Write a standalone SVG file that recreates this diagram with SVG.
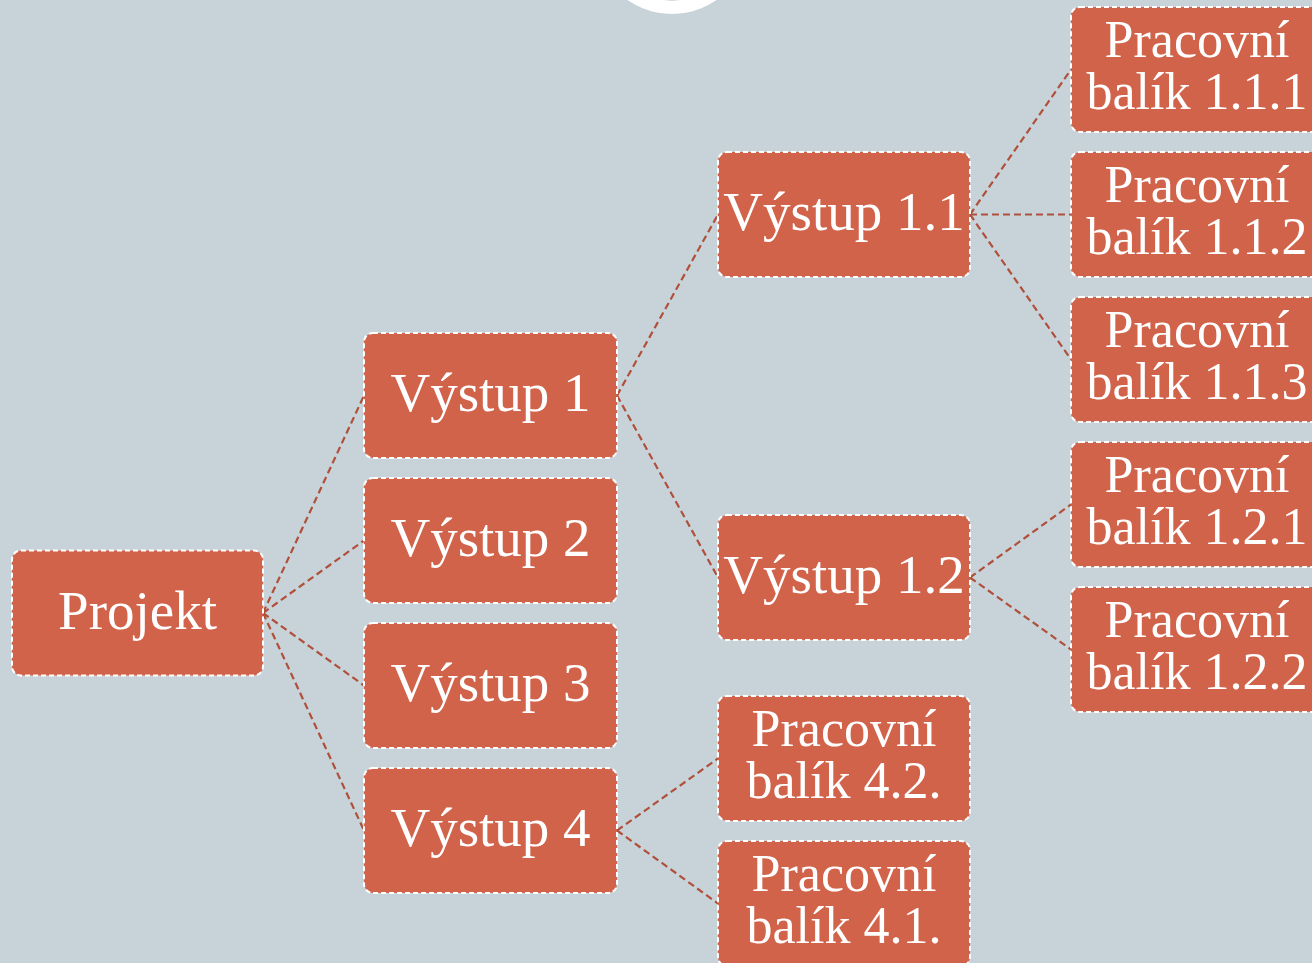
<svg xmlns="http://www.w3.org/2000/svg" width="1312" height="963" viewBox="0 0 1312 963">
<style>
.bg{fill:#c8d3d9}
.box{fill:#d1634a;stroke:#ffffff;stroke-width:2;stroke-dasharray:5 3}
.t{fill:#ffffff;font-family:"Liberation Serif","DejaVu Serif",serif;text-anchor:middle}
.s{font-size:55px}
.d{font-size:52px}
.c{fill:none;stroke:#b0503b;stroke-width:2.2;stroke-dasharray:7 4}
</style>
<rect class="bg" x="0" y="0" width="1312" height="963"/>
<g id="top-circle">
<circle cx="672" cy="-64" r="78" fill="#ffffff"/>
<circle cx="672" cy="-64" r="64.5" fill="#9fb3b9"/>
</g>
<g id="connectors">
<line class="c" x1="263" y1="613" x2="364" y2="395.5"/>
<line class="c" x1="263" y1="613" x2="364" y2="540.5"/>
<line class="c" x1="263" y1="613" x2="364" y2="685.5"/>
<line class="c" x1="263" y1="613" x2="364" y2="830.5"/>
<line class="c" x1="617" y1="395.5" x2="718" y2="214.5"/>
<line class="c" x1="617" y1="395.5" x2="718" y2="577.5"/>
<line class="c" x1="617" y1="830.5" x2="718" y2="758.5"/>
<line class="c" x1="617" y1="830.5" x2="718" y2="903.5"/>
<line class="c" x1="970" y1="214.5" x2="1071" y2="69.5"/>
<line class="c" x1="970" y1="214.5" x2="1071" y2="214.5"/>
<line class="c" x1="970" y1="214.5" x2="1071" y2="359.5"/>
<line class="c" x1="970" y1="577.5" x2="1071" y2="504.5"/>
<line class="c" x1="970" y1="577.5" x2="1071" y2="649.5"/>
</g>
<g id="projekt"><rect class="box" x="12" y="550.5" width="251" height="125" rx="9"/><text class="t s" x="137.5" y="629">Projekt</text></g>
<g id="vystup1"><rect class="box" x="364" y="333" width="253" height="125" rx="9"/><text class="t s" x="490.5" y="411">Výstup 1</text></g>
<g id="vystup2"><rect class="box" x="364" y="478" width="253" height="125" rx="9"/><text class="t s" x="490.5" y="556">Výstup 2</text></g>
<g id="vystup3"><rect class="box" x="364" y="623" width="253" height="125" rx="9"/><text class="t s" x="490.5" y="701">Výstup 3</text></g>
<g id="vystup4"><rect class="box" x="364" y="768" width="253" height="125" rx="9"/><text class="t s" x="490.5" y="846">Výstup 4</text></g>
<g id="vystup11"><rect class="box" x="718" y="152" width="252" height="125" rx="9"/><text class="t s" x="844" y="230">Výstup 1.1</text></g>
<g id="vystup12"><rect class="box" x="718" y="515" width="252" height="125" rx="9"/><text class="t s" x="844" y="593">Výstup 1.2</text></g>
<g id="balik42"><rect class="box" x="718" y="696" width="252" height="125" rx="9"/><text class="t d" x="844" y="746">Pracovní</text><text class="t d" x="844" y="798">balík 4.2.</text></g>
<g id="balik41"><rect class="box" x="718" y="841" width="252" height="125" rx="9"/><text class="t d" x="844" y="891">Pracovní</text><text class="t d" x="844" y="943">balík 4.1.</text></g>
<g id="balik111"><rect class="box" x="1071" y="7" width="252" height="125" rx="9"/><text class="t d" x="1197" y="57">Pracovní</text><text class="t d" x="1197" y="109">balík 1.1.1</text></g>
<g id="balik112"><rect class="box" x="1071" y="152" width="252" height="125" rx="9"/><text class="t d" x="1197" y="202">Pracovní</text><text class="t d" x="1197" y="254">balík 1.1.2</text></g>
<g id="balik113"><rect class="box" x="1071" y="297" width="252" height="125" rx="9"/><text class="t d" x="1197" y="347">Pracovní</text><text class="t d" x="1197" y="399">balík 1.1.3</text></g>
<g id="balik121"><rect class="box" x="1071" y="442" width="252" height="125" rx="9"/><text class="t d" x="1197" y="492">Pracovní</text><text class="t d" x="1197" y="544">balík 1.2.1</text></g>
<g id="balik122"><rect class="box" x="1071" y="587" width="252" height="125" rx="9"/><text class="t d" x="1197" y="637">Pracovní</text><text class="t d" x="1197" y="689">balík 1.2.2</text></g>
</svg>
